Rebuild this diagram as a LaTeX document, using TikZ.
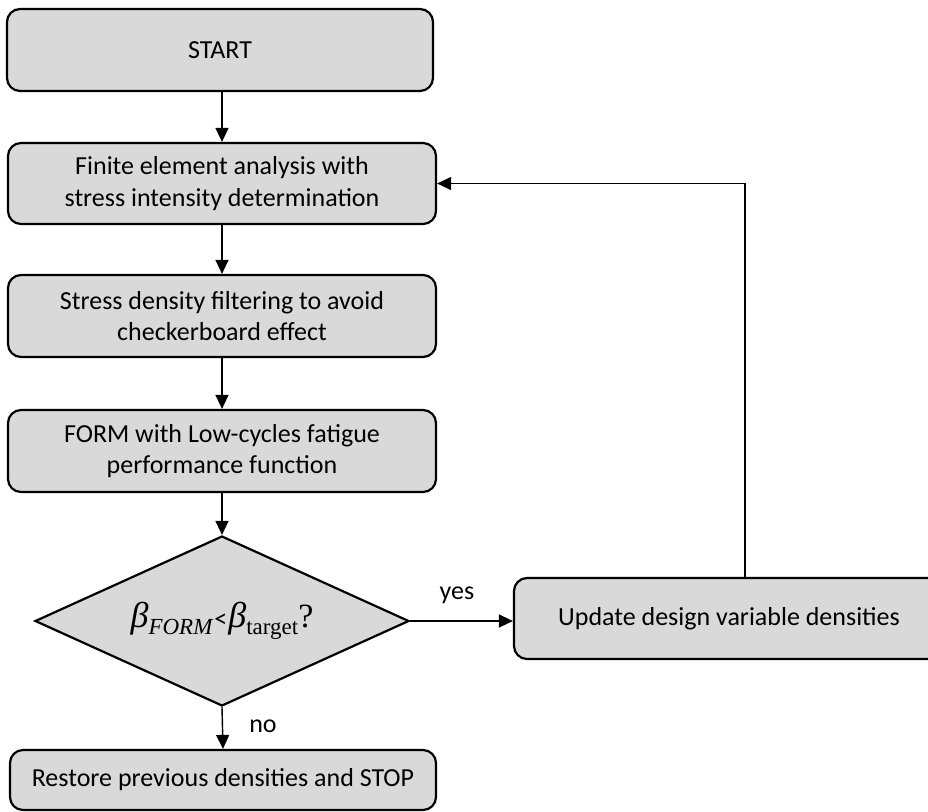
\documentclass[tikz,border=0pt]{standalone}
\usepackage[no-math]{fontspec}
\setmainfont{Carlito}
\newfontfamily\cambrialike{Liberation Serif}
\usetikzlibrary{arrows.meta,shapes.geometric}
\definecolor{boxfill}{HTML}{D9D9D9}
\tikzset{
  box/.style={draw=black, line width=2.2pt, fill=boxfill, rounded corners=13pt,
    align=center, inner sep=0pt, font=\fontsize{26}{31.5}\selectfont},
  decision/.style={draw=black, line width=2.2pt, fill=boxfill, diamond, aspect=2.2,
    inner sep=0pt, minimum width=374pt, minimum height=170pt},
  arr/.style={line width=1.4pt, -{Triangle[length=14pt,width=13pt]}},
  looparr/.style={line width=1.1pt, -{Triangle[length=14pt,width=13pt]}},
  lbl/.style={font=\fontsize{26}{31.5}\selectfont, inner sep=0pt}
}
\newcommand{\betasym}{{\cambrialike\fontsize{36}{38}\selectfont\itshape β}}
\newcommand{\lowsub}[1]{\raisebox{-7pt}{\cambrialike\fontsize{23}{25}\selectfont #1}}
\begin{document}
\begin{tikzpicture}[x=1pt,y=-1pt]
\useasboundingbox (0,0) rectangle (928,811);
\node[box, minimum width=426pt, minimum height=82pt] (start) at (220,50) {START};
\node[box, minimum width=428pt, minimum height=81pt] (fin) at (222,183.5) {Finite element analysis with\\stress intensity determination};
\node[box, minimum width=428pt, minimum height=82pt] (fil) at (222,316) {Stress density filtering to avoid\\checkerboard effect};
\node[box, minimum width=428pt, minimum height=82pt] (form) at (222,451) {FORM with Low-cycles fatigue\\performance function};
\node[decision] (dec) at (222,621) {\betasym\lowsub{\itshape FORM}\hspace{2pt}{\fontsize{26}{30}\selectfont<}\hspace{1pt}\betasym\lowsub{target}{\cambrialike\fontsize{34}{36}\selectfont ?}};
\node[box, minimum width=426pt, minimum height=60pt] (stop) at (223,780) {Restore previous densities and STOP};
\node[box, minimum width=430pt, minimum height=81pt] (upd) at (729,618.5) {Update design variable densities};
\coordinate (loopx) at (745,0);
\draw[arr] (start.south -| fin.north) -- (fin.north);
\draw[arr] (fin.south) -- (fil.north);
\draw[arr] (fil.south) -- (form.north);
\draw[arr] (form.south) -- (dec.north);
\draw[arr] (dec.south) -- (stop.north);
\draw[arr] (dec.east) -- (dec.east -| upd.west);
\draw[looparr] (upd.north -| loopx) |- (fin.east);
\node[lbl] (yes) at (457,595) {yes};
\node[lbl] (no) at (263,726) {no};
\end{tikzpicture}
\end{document}
